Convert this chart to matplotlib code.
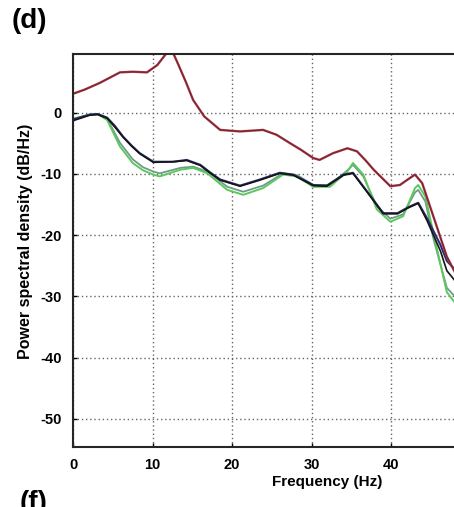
import matplotlib
matplotlib.use("Agg")
import matplotlib.pyplot as plt

plt.rcParams['font.family'] = ['Liberation Sans', 'DejaVu Sans']

# upper pair (red + dark overlay)
top_f = [0, 1.5, 3.4, 5.9, 7.5, 9.3, 10.6, 11.8, 12.4, 13.2, 14.2, 15.1, 16.5, 18.5, 21, 23.9, 25.6,
         27.2, 28.6, 30.2, 31, 32.7, 34.5, 35.7, 36.8, 37.8, 39.9, 41.1, 42.2, 43, 43.9, 45.3, 47, 48]
top_y = [3.1, 3.8, 4.9, 6.6, 6.7, 6.6, 7.8, 9.8, 10.3, 8.0, 5.0, 2.1, -0.6, -2.8, -3.05, -2.8, -3.6,
         -4.9, -6.0, -7.4, -7.7, -6.6, -5.8, -6.3, -7.8, -9.3, -12.0, -11.8, -10.8, -10.1, -11.5, -16.9, -23.5, -26.0]

# middle pair (navy + black)
mid_f = [0, 2.1, 3.1, 4.3, 5.3, 6.3, 7.4, 8.4, 10.1, 12.6, 14.3, 16, 17.2, 18.5, 21, 23.5, 26, 27.7,
         30.2, 31.9, 34, 35.2, 37, 39, 40.8, 42.2, 43.4, 44.5, 46.2, 47, 48]
nav_y = [-1.1, -0.3, -0.2, -0.8, -2.2, -3.9, -5.4, -6.6, -8.0, -8.0, -7.7, -8.5, -9.7, -10.9, -11.9, -10.9,
         -9.8, -10.1, -11.8, -11.9, -10.1, -9.8, -12.9, -16.4, -16.4, -15.4, -14.7, -17.2, -21.6, -24.2, -25.6]
blk_y = [-1.3, -0.4, -0.3, -0.9, -2.4, -4.0, -5.5, -6.7, -8.1, -8.0, -7.8, -8.6, -9.8, -11.0, -12.0, -11.0,
         -9.9, -10.2, -11.9, -12.0, -10.2, -9.9, -13.0, -16.5, -16.5, -15.5, -14.8, -17.6, -22.6, -25.8, -27.4]

# lower pair (green + grey-green)
grn_f = [0, 2.1, 3.1, 4.3, 5.9, 7.5, 8.8, 10.1, 10.9, 13.5, 15.1, 16.9, 19.4, 21.4, 23.9, 26.4, 28.2,
         30.2, 32.3, 34.5, 35.2, 36.5, 38.2, 39.9, 41.5, 43, 43.4, 44.3, 45.3, 47, 48]
grn_y = [-1.0, -0.3, -0.2, -1.2, -5.5, -8.2, -9.4, -10.1, -10.4, -9.3, -9.0, -9.9, -12.6, -13.4, -12.3,
         -10.1, -10.4, -12.1, -12.1, -9.6, -8.2, -10.1, -15.8, -17.8, -16.9, -12.3, -11.8, -13.7, -19.6, -29.3, -31.0]
gry_y = [-1.0, -0.3, -0.2, -1.0, -4.9, -7.6, -8.9, -9.6, -9.9, -9.0, -8.8, -9.6, -12.1, -12.9, -11.9,
         -9.9, -10.2, -11.8, -11.8, -9.4, -8.5, -10.4, -15.3, -17.3, -16.6, -13.0, -12.6, -14.5, -20.5, -28.6, -30.0]

fig = plt.figure(figsize=(4.54, 5.07), dpi=100)
ax = fig.add_axes([73/454, 60/507, 381/454, 393/507])

ax.plot(grn_f, gry_y, color='#6f9a8a', lw=1.3)
ax.plot(grn_f, grn_y, color='#5cc85c', lw=1.4)
ax.plot(mid_f, nav_y, color='#2c2c72', lw=1.5)
ax.plot(mid_f, blk_y, color='#151515', lw=1.2)
ax.plot(top_f, top_y, color='#b03848', lw=1.7)
ax.plot(top_f, top_y, color='#3a1a22', lw=0.7, alpha=0.6)

ax.set_xlim(0, 47.9)
ax.set_ylim(-54.6, 9.6)
ax.set_xticks([0, 10, 20, 30, 40])
ax.set_yticks([0, -10, -20, -30, -40, -50])
ax.set_yticklabels(['0', '-10', '-20', '-30', '-40', '-50'])
ax.grid(True, linestyle=(0, (1, 2)), color='0.4', lw=1.0)
ax.spines['right'].set_visible(False)
for s in ['left', 'bottom', 'top']:
    ax.spines[s].set_linewidth(1.5)
    ax.spines[s].set_color('0.15')
ax.tick_params(direction='in', length=3, width=1, labelsize=10.5, pad=8)
for lab in ax.get_xticklabels() + ax.get_yticklabels():
    lab.set_fontweight('bold')

ax.set_xlabel('Frequency (Hz)', fontsize=11, fontweight='bold')
ax.xaxis.set_label_coords(0.667, -0.07)
ax.set_ylabel('Power spectral density (dB/Hz)', fontsize=11.5, fontweight='bold')
ax.yaxis.set_label_coords(-0.105, 0.524)

fig.text(12/454, 1 - 8/507, '(d)', fontsize=20, fontweight='bold', va='top', ha='left')
fig.text(20/454, 1 - 490/507, '(f)', fontsize=20, fontweight='bold', va='top', ha='left')

fig.savefig('out.png', dpi=100)
